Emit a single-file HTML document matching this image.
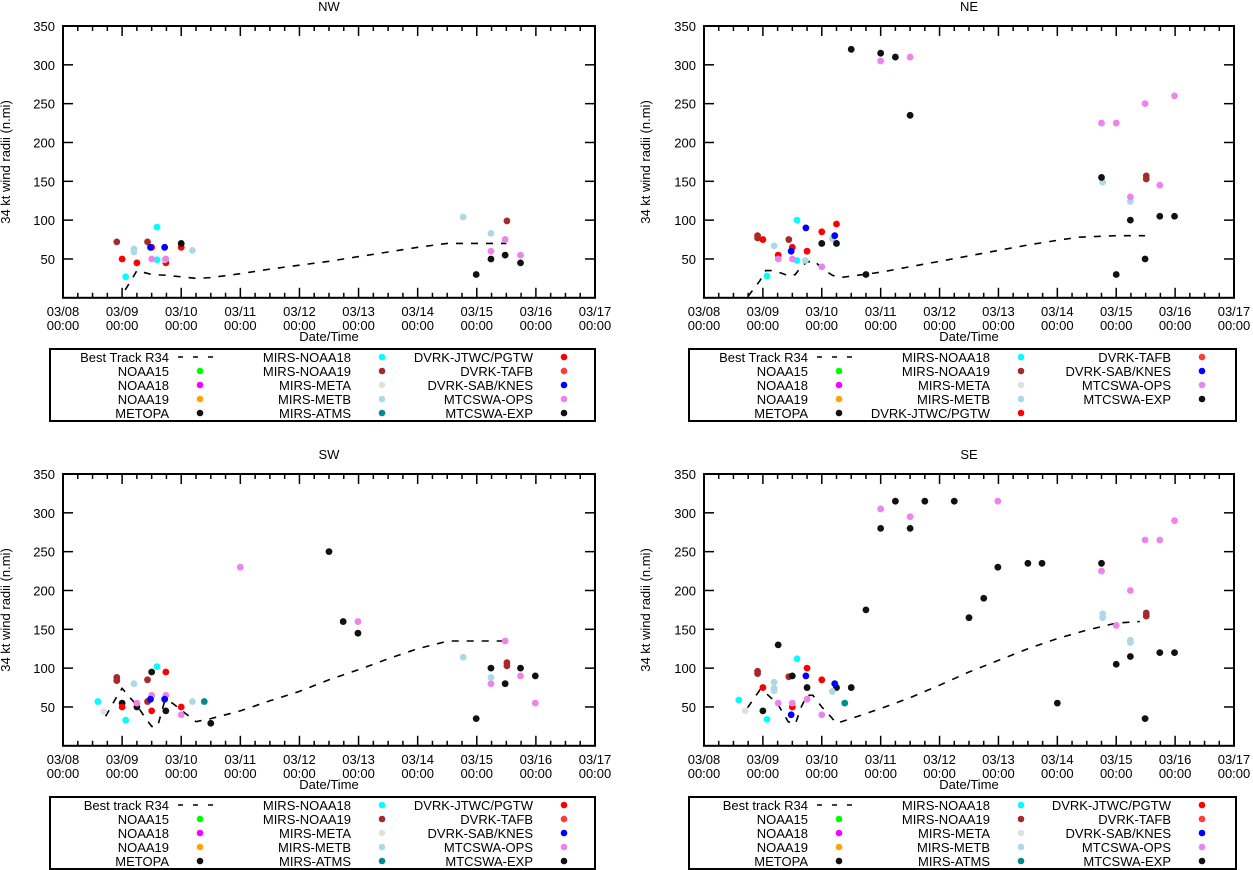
<!DOCTYPE html>
<html><head><meta charset="utf-8"><style>
html,body{margin:0;padding:0;background:#fff}
svg{display:block}
text{font-family:"Liberation Sans",Arial,sans-serif;fill:#000}
</style></head><body>
<svg id="chart" width="1253" height="870" viewBox="0 0 1253 870" xmlns="http://www.w3.org/2000/svg"></svg>
<script>
// ---- data (days since 03/08 00:00, radius n.mi) ----
const xTickLabels = ["03/08","03/09","03/10","03/11","03/12","03/13","03/14","03/15","03/16","03/17"];
const yTicks = [50,100,150,200,250,300,350];

const nwTrackDays = [1.05,1.15,1.25,1.5,1.75,2.0,2.25,2.5,3,3.5,4,4.5,5,5.5,6,6.5,7,7.5];
const nwTrackR34  = [10,22,35,30,29,27,25,26,31,37,42,47,53,59,65,70,70,70];
const nwPtDays = [0.91,1.43,7.51, 1.0,1.25,1.5,1.74,2.0, 1.06,1.59,1.59, 1.2,1.2,2.19,6.77,7.24,1.72, 1.48,1.72, 1.5,1.74,7.24,7.48,7.74, 2.0,6.99,7.24,7.48,7.74];
const nwPtVals = [72,72,99, 50,45,65,45,65, 27,91,49, 63,59,61,104,83,49, 65,65, 50,50,60,75,55, 70,30,50,55,45];
const nwPtSeries = ["m19","m19","m19","jtwc","jtwc","jtwc","jtwc","jtwc","m18","m18","m18","metb","metb","metb","metb","metb","metb","sab","sab","ops","ops","ops","ops","ops","exp","exp","exp","exp","exp"];

const neTrackDays = [0.75,0.95,1.05,1.15,1.3,1.45,1.55,1.65,1.75,1.87,2.0,2.18,2.31,3,3.5,4,4.5,5,5.5,6,6.37,7,7.49];
const neTrackR34  = [2,22,35,35,32,28,30,40,46,48,38,29,26,33,40,47,54,61,68,74,78,80,80];
const nePtDays = [0.91,0.91,1.44,7.51,7.51, 1.0,1.26,1.5,1.75,2.0,2.25, 1.07,1.58,1.58, 1.19,1.72,2.18,6.77,7.24, 1.48,1.73,2.22, 1.26,1.5,2.0,3.0,3.5,6.75,7.0,7.24,7.49,7.74,7.99, 2.0,2.25,2.5,2.75,3.0,3.25,3.5,6.75,7.0,7.24,7.49,7.74,7.99];
const nePtVals = [80,77,75,157,153, 75,55,65,60,85,95, 28,100,48, 67,48,76,149,124, 60,90,80, 50,50,40,305,310,225,225,130,250,145,260, 70,70,320,30,315,310,235,155,30,100,50,105,105];
const nePtSeries = ["m19","m19","m19","m19","m19","jtwc","jtwc","jtwc","jtwc","jtwc","jtwc","m18","m18","m18","metb","metb","metb","metb","metb","sab","sab","sab","ops","ops","ops","ops","ops","ops","ops","ops","ops","ops","ops","exp","exp","exp","exp","exp","exp","exp","exp","exp","exp","exp","exp","exp"];

const swTrackDays = [0.72,0.9,1.0,1.1,1.25,1.4,1.5,1.6,1.72,1.85,2.0,2.25,2.5,3,3.5,4,4.5,5,5.5,6,6.52,7,7.48];
const swTrackR34  = [38,62,74,65,52,35,25,25,58,55,46,31,35,45,58,70,85,98,112,125,135,135,135];
const swPtDays = [0.59,1.06,1.59, 0.69, 0.91,0.91,1.43,1.43,7.51,7.51, 1.0,1.25,1.5,1.74,2.5,4.5,4.74,4.99,6.99,7.24,7.48,7.74,7.99, 1.0,1.5,1.74,2.0, 1.25,1.5,1.74,2.0,3.0,4.99,7.24,7.48,7.74,7.99, 1.48,1.72, 1.2,2.19,6.77,7.24, 2.39];
const swPtVals = [57,33,102, 44, 88,84,85,57,107,103, 55,50,95,45,29,250,160,145,35,100,80,100,90, 50,45,95,50, 55,65,65,40,230,160,80,135,90,55, 60,60, 80,57,114,88, 57];
const swPtSeries = ["m18","m18","m18","meta","m19","m19","m19","m19","m19","m19","exp","exp","exp","exp","exp","exp","exp","exp","exp","exp","exp","exp","exp","jtwc","jtwc","jtwc","jtwc","ops","ops","ops","ops","ops","ops","ops","ops","ops","ops","sab","sab","metb","metb","metb","metb","atms"];

const seTrackDays = [0.74,0.95,1.05,1.25,1.43,1.55,1.65,1.75,1.85,2.0,2.1,2.25,2.5,3,3.5,4,4.5,5,5.5,6,6.5,7,7.4];
const seTrackR34  = [49,72,68,54,31,28,50,65,65,50,42,29,35,48,62,78,95,110,125,138,149,158,160];
const sePtDays = [0.59,1.07,1.58, 0.7, 0.91,0.91,1.44,7.51,7.51, 1.0,1.5,1.75,2.0, 1.0,1.26,1.5,1.75,2.25,2.5,2.75,3.0,3.25,3.5,3.75,4.25,4.5,4.75,4.99,5.5,5.74,6.0,6.75,7.0,7.24,7.49,7.74,7.99, 1.19,1.19,1.19,2.18,6.77,6.77,7.24,7.24, 1.26,1.5,1.75,2.0,3.0,3.5,4.99,6.75,7.0,7.24,7.49,7.74,7.99, 1.48,1.73,2.22, 2.39];
const sePtVals = [59,34,112, 45, 96,93,89,171,167, 75,50,100,85, 45,130,90,75,75,75,175,280,315,280,315,315,165,190,230,235,235,55,235,105,115,35,120,120, 82,74,71,70,170,165,136,133, 55,55,60,40,305,295,315,225,155,200,265,265,290, 40,90,80, 55];
const sePtSeries = ["m18","m18","m18","meta","m19","m19","m19","m19","m19","jtwc","jtwc","jtwc","jtwc","exp","exp","exp","exp","exp","exp","exp","exp","exp","exp","exp","exp","exp","exp","exp","exp","exp","exp","exp","exp","exp","exp","exp","exp","metb","metb","metb","metb","metb","metb","metb","metb","ops","ops","ops","ops","ops","ops","ops","ops","ops","ops","ops","ops","ops","sab","sab","sab","atms"];

const legendStd = [["BT","NOAA15","NOAA18","NOAA19","METOPA"],["MIRS-NOAA18","MIRS-NOAA19","MIRS-META","MIRS-METB","MIRS-ATMS"],["DVRK-JTWC/PGTW","DVRK-TAFB","DVRK-SAB/KNES","MTCSWA-OPS","MTCSWA-EXP"]];
const legendNE = [["BT","NOAA15","NOAA18","NOAA19","METOPA"],["MIRS-NOAA18","MIRS-NOAA19","MIRS-META","MIRS-METB","DVRK-JTWC/PGTW"],["DVRK-TAFB","DVRK-SAB/KNES","MTCSWA-OPS","MTCSWA-EXP"]];

// ---- styles ----
const colors = {"m18":"#00ffff","m19":"#a52a2a","meta":"#e0e0e0","metb":"#add8e6","atms":"#008b8b","jtwc":"#ff0000","tafb":"#ff3b3b","sab":"#0000ff","ops":"#ee82ee","exp":"#111111",
 "NOAA15":"#00ff00","NOAA18":"#ff00ff","NOAA19":"#ffa500","METOPA":"#111111","MIRS-NOAA18":"#00ffff","MIRS-NOAA19":"#a52a2a","MIRS-META":"#e0e0e0","MIRS-METB":"#add8e6","MIRS-ATMS":"#008b8b","DVRK-JTWC/PGTW":"#ff0000","DVRK-TAFB":"#ff3b3b","DVRK-SAB/KNES":"#0000ff","MTCSWA-OPS":"#ee82ee","MTCSWA-EXP":"#111111"};

const NS="http://www.w3.org/2000/svg";
const svg=document.getElementById('chart');
function mk(tag,attrs,parent){const e=document.createElementNS(NS,tag);for(const k in attrs)e.setAttribute(k,attrs[k]);(parent||svg).appendChild(e);return e;}

function panel(o){
  const g=mk('g',{});
  
  
  const top=26+o.dy, bot=297.8+o.dy;
  const xs=d=>o.left+(o.right-o.left)*d/9;
  const ys=v=>bot-(bot-top)*v/350;
  const t=mk('text',{x:(o.left+o.right)/2,y:11+o.dy,'text-anchor':'middle','font-size':13},g);t.textContent=o.title;
  
  
  for(let i=0;i<=36;i++){
    const x=xs(i/4), L=(i%4===0)?10:5;
    mk('line',{x1:x,x2:x,y1:bot,y2:bot-L,stroke:'#000','stroke-width':1.5},g);
    mk('line',{x1:x,x2:x,y1:top,y2:top+L,stroke:'#000','stroke-width':1.5},g);
  }
  xTickLabels.forEach((lab,i)=>{
    const x=xs(i);
    const tx=mk('text',{x:x,y:316+o.dy,'text-anchor':'middle','font-size':13},g);tx.textContent=lab;
    
    
    const tx2=mk('text',{x:x,y:330+o.dy,'text-anchor':'middle','font-size':13},g);tx2.textContent="00:00";
  });
  yTicks.forEach(v=>{
    const y=ys(v);
    if(v<350){
      mk('line',{x1:o.left,x2:o.left+10,y1:y,y2:y,stroke:'#000','stroke-width':1.5},g);
      mk('line',{x1:o.right,x2:o.right-10,y1:y,y2:y,stroke:'#000','stroke-width':1.5},g);
    }
    const ty=mk('text',{x:o.left-8,y:y+5,'text-anchor':'end','font-size':13},g);ty.textContent=v;
    
    
  });
  const xl=mk('text',{x:(o.left+o.right)/2,y:341+o.dy,'text-anchor':'middle','font-size':13},g);xl.textContent="Date/Time";
  
  
  const yl=mk('text',{x:0,y:0,'text-anchor':'middle','font-size':13,transform:`translate(${o.ylx},${162+o.dy}) rotate(-90)`},g);yl.textContent="34 kt wind radii (n.mi)";
  
  
  const pts=o.td.map((d,i)=>xs(d).toFixed(1)+','+ys(o.tv[i]).toFixed(1)).join(' ');
  const pl=mk('polyline',{points:pts,fill:'none',stroke:'#000','stroke-width':1.6,'stroke-dasharray':'7,8'},g);
  
  
  o.pd.forEach((d,i)=>{
    const c=mk('circle',{cx:xs(d),cy:ys(o.pv[i]),r:3.4,fill:colors[o.ps[i]]},g);
    
    
  });
  mk('rect',{x:o.left,y:top,width:o.right-o.left,height:bot-top,fill:'none',stroke:'#000','stroke-width':2},g);
  const lg=mk('g',{},g);
  
  
  mk('rect',{x:o.lx0,y:349+o.dy,width:o.lx1-o.lx0,height:72,fill:'none',stroke:'#000','stroke-width':2},lg);
  o.leg.forEach((col,ci)=>{
    col.forEach((lab,ri)=>{
      const yc=357+14*ri+o.dy;
      const txt=mk('text',{x:o.colR[ci],y:yc+5,'text-anchor':'end','font-size':13},lg);
      txt.textContent = lab==="BT" ? o.btLabel : lab;
      
      
      if(lab==="BT"){
        mk('line',{x1:o.colR[ci]+9,x2:o.colR[ci]+49,y1:yc,y2:yc,stroke:'#000','stroke-width':1.5,'stroke-dasharray':'5,10'},lg);
      } else {
        mk('circle',{cx:o.colD[ci],cy:yc,r:3.3,fill:colors[lab]},lg);
      }
    });
  });
}

panel({key:'nw',title:'NW',left:63,right:595,dy:0,ylx:10,td:nwTrackDays,tv:nwTrackR34,pd:nwPtDays,pv:nwPtVals,ps:nwPtSeries,lx0:50,lx1:595,colR:[169,351,533],colD:[200,382,564],leg:legendStd,btLabel:'Best Track R34'});
panel({key:'ne',title:'NE',left:704,right:1234,dy:0,ylx:650,td:neTrackDays,tv:neTrackR34,pd:nePtDays,pv:nePtVals,ps:nePtSeries,lx0:689,lx1:1236,colR:[808,990,1171],colD:[839,1021,1202],leg:legendNE,btLabel:'Best Track R34'});
panel({key:'sw',title:'SW',left:63,right:595,dy:448,ylx:10,td:swTrackDays,tv:swTrackR34,pd:swPtDays,pv:swPtVals,ps:swPtSeries,lx0:50,lx1:595,colR:[169,351,533],colD:[200,382,564],leg:legendStd,btLabel:'Best track R34'});
panel({key:'se',title:'SE',left:704,right:1234,dy:448,ylx:650,td:seTrackDays,tv:seTrackR34,pd:sePtDays,pv:sePtVals,ps:sePtSeries,lx0:689,lx1:1236,colR:[808,990,1171],colD:[839,1021,1202],leg:legendStd,btLabel:'Best track R34'});
</script>
</body></html>
